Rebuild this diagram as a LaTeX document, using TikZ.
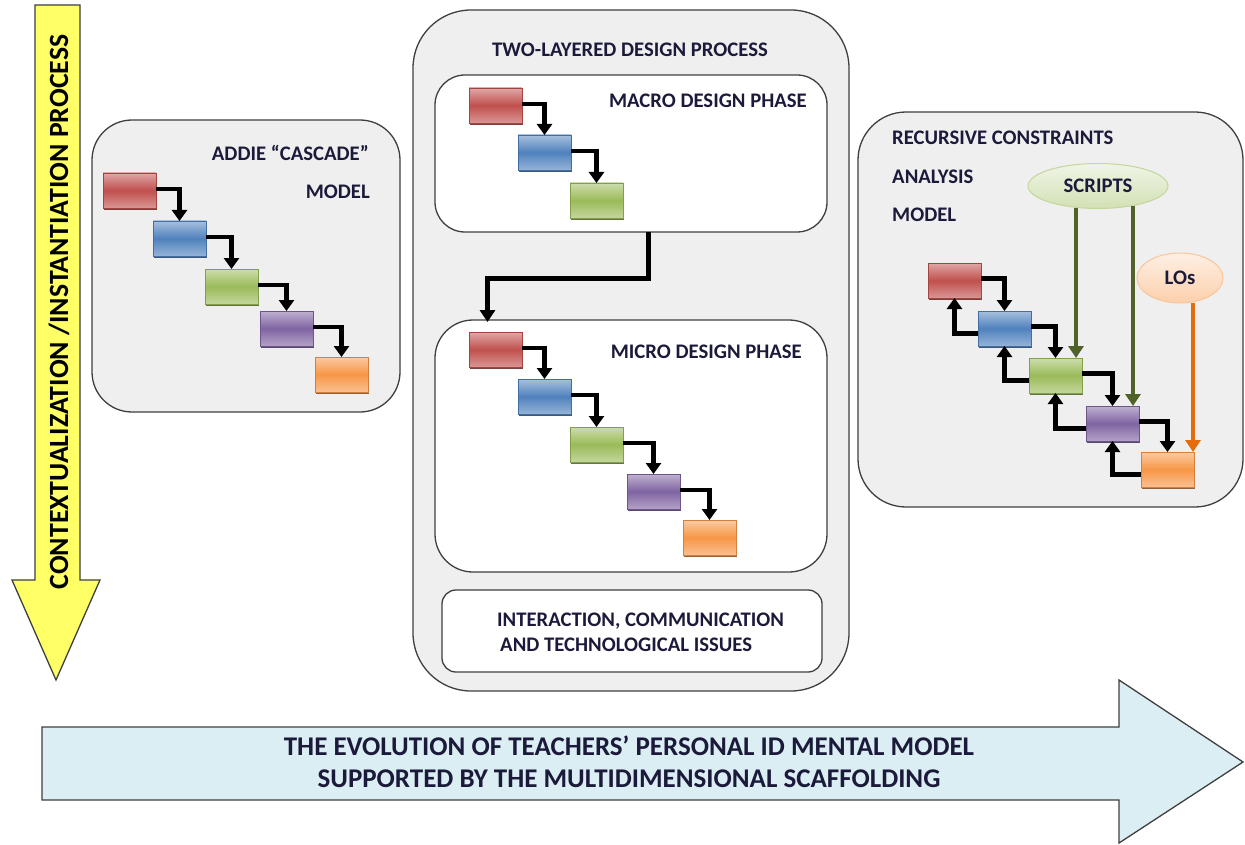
\documentclass[tikz,border=0pt]{standalone}
\usepackage{fontspec}
\setmainfont{Carlito}
\usetikzlibrary{arrows.meta,calc,shapes.geometric,shadows}
\definecolor{cred}{HTML}{C0504D}
\definecolor{cblue}{HTML}{4F81BD}
\definecolor{cgreen}{HTML}{9BBB59}
\definecolor{cpurple}{HTML}{8064A2}
\definecolor{corange}{HTML}{F79646}
\definecolor{navy}{HTML}{1C1A3A}
\definecolor{panelgray}{HTML}{EFEFEF}
\definecolor{edgegray}{HTML}{3F3F3F}
\definecolor{olive}{HTML}{4F6228}
\definecolor{darkorange}{HTML}{E46C0A}
\definecolor{ylw}{HTML}{FFFF66}
\definecolor{lblue}{HTML}{DAEEF3}
\tikzset{
  panel/.style={draw=edgegray, line width=1.3pt, fill=panelgray, rounded corners=#1,
    inner sep=0pt, outer sep=0pt, anchor=north west, rectangle},
  innerpanel/.style={draw=edgegray, line width=1.3pt, fill=white, rounded corners=#1,
    inner sep=0pt, outer sep=0pt, anchor=north west, rectangle},
  stepbox/.style={rectangle, minimum width=53pt, minimum height=35pt, inner sep=0pt,
    outer sep=0pt, draw=#1!85!black, line width=0.7pt, top color=#1!50!white,
    bottom color=#1!60!white, middle color=#1, anchor=north west,
    drop shadow={shadow xshift=0.8pt, shadow yshift=-1.8pt, fill=#1!55!black, opacity=0.9}},
  flow/.style={line width=4.6pt, black, -{Triangle[width=15pt,length=11pt]}},
  gflow/.style={line width=4.4pt, olive, -{Triangle[width=15pt,length=12pt]}},
  oflow/.style={line width=4.4pt, darkorange, -{Triangle[width=15pt,length=12pt]}},
  lbl/.style={font=\fontsize{20.7}{24}\selectfont\bfseries, text=navy, inner sep=0pt},
}
\begin{document}
\begin{tikzpicture}[x=1pt,y=-1pt]
\useasboundingbox (0,0) rectangle (1245,845);

% yellow vertical arrow
\draw[fill=ylw, draw=edgegray, line width=1.3pt, line join=miter]
  (35,5) -- (80,5) -- (80,580) -- (100,580) -- (56,680) -- (12,580) -- (35,580) -- cycle;
\node[rotate=90, font=\fontsize{27.8}{30}\selectfont\bfseries, text=black, inner sep=0pt]
  (ctx) at (59,312) {CONTEXTUALIZATION /INSTANTIATION PROCESS};

% bottom horizontal arrow
\draw[fill=lblue, draw=edgegray, line width=1.3pt, line join=miter]
  (42,727) -- (1119,727) -- (1119,680) -- (1243,762) -- (1119,843) -- (1119,800) -- (42,800) -- cycle;
\node[font=\fontsize{27}{31.5}\selectfont\bfseries, text=navy, align=center, inner sep=0pt]
  (evo) at (629,762) {THE EVOLUTION OF TEACHERS’ PERSONAL ID MENTAL MODEL\\SUPPORTED BY THE MULTIDIMENSIONAL SCAFFOLDING};

% ---------------- ADDIE panel
\node[panel=40pt, minimum width=308pt, minimum height=292pt] (addie) at (92,120) {};
\node[lbl, anchor=east] (addiet) at (369,153) {ADDIE “CASCADE”};
\node[lbl, anchor=east] (addiem) at (370,192) {MODEL};
\node[stepbox=cred] (ar) at (103,173) {};
\node[stepbox=cblue] (ab) at (153,221) {};
\node[stepbox=cgreen] (ag) at (205,269) {};
\node[stepbox=cpurple] (ap) at (260,311) {};
\node[stepbox=corange] (ao) at (315,357) {};
\draw[flow] ([yshift=1.5pt]ar.east) -| (ab.north);
\draw[flow] ([yshift=1.5pt]ab.east) -| (ag.north);
\draw[flow] ([yshift=1.5pt]ag.east) -| (ap.north);
\draw[flow] ([yshift=1.5pt]ap.east) -| (ao.north);

% ---------------- Two-layered panel
\node[panel=58pt, minimum width=436pt, minimum height=681pt] (two) at (413,10) {};
\node[lbl] (twot) at (630,50) {TWO-LAYERED DESIGN PROCESS};
\node[innerpanel=30pt, minimum width=392pt, minimum height=157pt] (macro) at (435,75) {};
\node[lbl, anchor=east] (macrot) at (807,101) {MACRO DESIGN PHASE};
\node[stepbox=cred] (mr) at (469,88) {};
\node[stepbox=cblue] (mb) at (518,135) {};
\node[stepbox=cgreen] (mg) at (570,183) {};
\draw[flow] ([yshift=1.5pt]mr.east) -| (mb.north);
\draw[flow] ([yshift=1.5pt]mb.east) -| (mg.north);

\node[innerpanel=38pt, minimum width=392pt, minimum height=252pt] (micro) at (435,320) {};
\node[lbl, anchor=east] (microt) at (802,352) {MICRO DESIGN PHASE};
\node[stepbox=cred] (ir) at (469,332) {};
\node[stepbox=cblue] (ib) at (518,379) {};
\node[stepbox=cgreen] (ig) at (570,427) {};
\node[stepbox=cpurple] (ip) at (627,474) {};
\node[stepbox=corange] (io) at (683,520) {};
\draw[flow] ([yshift=1.5pt]ir.east) -| (ib.north);
\draw[flow] ([yshift=1.5pt]ib.east) -| (ig.north);
\draw[flow] ([yshift=1.5pt]ig.east) -| (ip.north);
\draw[flow] ([yshift=1.5pt]ip.east) -| (io.north);

\draw[line width=5pt, black, -{Triangle[width=15pt,length=12pt]}]
  ([xshift=17pt]macro.south) -- ++(0,46) -| ($(micro.north -| ir.north)+(-8,2)$);

\node[innerpanel=14pt, minimum width=380pt, minimum height=82pt] (inter) at (442,590) {};
\node[lbl, align=left, anchor=west, font=\fontsize{20.7}{25}\selectfont\bfseries] (intert) at (497,632)
  {INTERACTION, COMMUNICATION\\\hspace*{3pt}AND TECHNOLOGICAL ISSUES};

% ---------------- Recursive panel
\node[panel=48pt, minimum width=385pt, minimum height=395pt] (rec) at (858,112) {};
\node[lbl, anchor=west] (rect1) at (892,138) {RECURSIVE CONSTRAINTS};
\node[lbl, anchor=west] (rect2) at (892,177) {ANALYSIS};
\node[lbl, anchor=west] (rect3) at (892,215) {MODEL};

\node[stepbox=cred] (rr) at (928,263) {};
\node[stepbox=cblue] (rb) at (978,311) {};
\node[stepbox=cgreen] (rg) at (1029,358) {};
\node[stepbox=cpurple] (rp) at (1086,406) {};
\node[stepbox=corange] (ro) at (1141,452) {};
\draw[flow] ([yshift=2pt]rr.east) -| (rb.north);
\draw[flow] ([yshift=2pt]rb.east) -| (rg.north);
\draw[flow] ([yshift=2pt]rg.east) -| (rp.north);
\draw[flow] ([yshift=2pt]rp.east) -| (ro.north);
\draw[flow] ([yshift=-5pt]rb.west) -| (rr.south);
\draw[flow] ([yshift=-5pt]rg.west) -| (rb.south);
\draw[flow] ([yshift=-5pt]rp.west) -| (rg.south);
\draw[flow] ([yshift=-5pt]ro.west) -| (rp.south);

\node[ellipse, minimum width=140pt, minimum height=45pt, inner sep=0pt, draw=cgreen!60!white,
  line width=1pt, top color=cgreen!15!white, bottom color=cgreen!45!white]
  (scripts) at (1098,186) {};
\node[lbl] (scriptst) at (scripts.center) {SCRIPTS};
\node[ellipse, minimum width=86pt, minimum height=50pt, inner sep=0pt, draw=corange!55!white,
  line width=1pt, top color=corange!15!white, bottom color=corange!45!white]
  (los) at (1180,278) {};
\node[lbl] (lost) at (los.center) {LOs};

\coordinate (g1) at ($(rg.north east)+(-6,0)$);
\coordinate (g2) at ($(rp.north east)+(-6,0)$);
\coordinate (o1) at ($(ro.north east)+(-1,0)$);
\draw[gflow] ([yshift=1pt]scripts.south -| g1) -- (g1);
\draw[gflow] ([yshift=3pt]scripts.south -| g2) -- (g2);
\draw[oflow] ([yshift=1pt]los.south -| o1) -- (o1);
\end{tikzpicture}
\end{document}
